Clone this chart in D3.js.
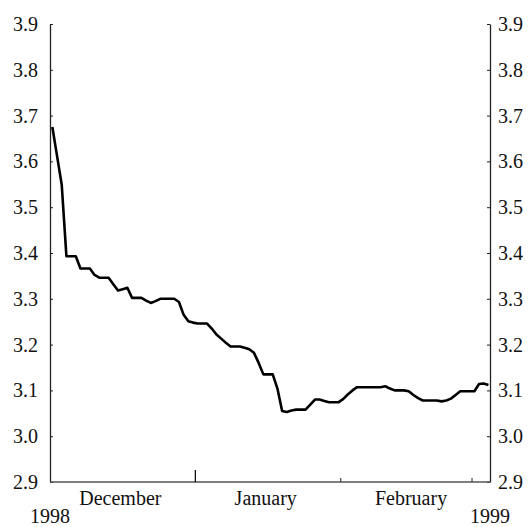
<!DOCTYPE html>
<html>
<head>
<meta charset="utf-8">
<script src="https://cdn.jsdelivr.net/npm/d3@7"></script>
<style>
  body { margin: 0; background: #fff; }
  text { font-family: "Liberation Serif", "Times New Roman", serif; }
</style>
</head>
<body>
<div class="chart"></div>
<script>
// daily values, starting 1 December 1998
const startDate = "1998-12-01";
const values = [
  3.675, 3.612, 3.549, 3.393, 3.393, 3.393, 3.366, 3.366, 3.366, 3.352,
  3.346, 3.346, 3.346, 3.332, 3.318, 3.321, 3.324, 3.302, 3.302, 3.302,
  3.296, 3.291, 3.295, 3.300, 3.300, 3.300, 3.300, 3.293, 3.265, 3.251,
  3.248,
  3.246, 3.246, 3.246, 3.235, 3.222, 3.213, 3.204, 3.196, 3.196, 3.196,
  3.193, 3.190, 3.182, 3.160, 3.135, 3.135, 3.135, 3.104, 3.055, 3.053,
  3.056, 3.058, 3.058, 3.058, 3.069, 3.080, 3.080, 3.077, 3.074, 3.074,
  3.074,
  3.081, 3.091, 3.100, 3.107, 3.107, 3.107, 3.107, 3.107, 3.107, 3.109,
  3.104, 3.100, 3.100, 3.100, 3.098, 3.090, 3.083, 3.078, 3.078, 3.078,
  3.078, 3.076, 3.078, 3.082, 3.090, 3.098, 3.098, 3.098,
  3.098, 3.114, 3.115, 3.112
];

const yTicks = [2.9, 3.0, 3.1, 3.2, 3.3, 3.4, 3.5, 3.6, 3.7, 3.8, 3.9];
const monthLabels = ["December", "January", "February"];
const monthLabelDates = ["1998-12-16", "1999-01-16", "1999-02-16"];
const majorTicks = ["1999-01-01"];
const minorTicks = ["1999-02-01", "1999-03-01"];
const yearLabels = ["1998", "1999"];

const parse = d3.utcParse("%Y-%m-%d");
const data = values.map((v, i) => ({
  date: d3.utcHour.offset(d3.utcDay.offset(parse(startDate), i), 12),
  value: v
}));

// margins, height and width
const margin = ({top: 24, right: 38, bottom: 45, left: 50});
const width = 528 - margin.left - margin.right;
const height = 527 - margin.top - margin.bottom;

const svg = d3.select(".chart")
    .append('svg')
    .attr('width', width + margin.left + margin.right)
    .attr('height', height + margin.top + margin.bottom)
    .append('g')
    .attr('transform', 'translate(' + margin.left + ',' + margin.top + ')');

// scales
const xScale = d3.scaleUtc()
    .domain([parse("1998-12-01"), d3.utcHour.offset(parse("1999-03-04"), 20)])
    .range([0, width]);

const yScale = d3.scaleLinear()
    .domain([2.9, 3.9])
    .range([height, 0]);

// y axes on both sides, ticks pointing inward
const yLeft = d3.axisLeft(yScale)
    .tickValues(yTicks)
    .tickFormat(d3.format(".1f"))
    .tickSizeInner(-3)
    .tickSizeOuter(0)
    .tickPadding(12);

const yRight = d3.axisRight(yScale)
    .tickValues(yTicks)
    .tickFormat(d3.format(".1f"))
    .tickSizeInner(-3)
    .tickSizeOuter(0)
    .tickPadding(8);

function styleAxis(g) {
  g.select('.domain').attr('stroke', '#222').attr('stroke-width', 1.3);
  g.selectAll('.tick line').attr('stroke', '#222');
  g.selectAll('.tick text')
    .attr('font-size', 20)
    .attr('fill', '#111')
    .attr('font-family', '"Liberation Serif", serif');
}

svg.append('g')
    .attr('class', 'axis y-left')
    .call(yLeft)
    .call(styleAxis);

svg.append('g')
    .attr('class', 'axis y-right')
    .attr('transform', 'translate(' + width + ',0)')
    .call(yRight)
    .call(styleAxis);

// x axis: baseline with a long year tick and short month ticks
const xAxis = svg.append('g')
    .attr('class', 'axis x-axis')
    .attr('transform', 'translate(0,' + height + ')');

xAxis.append('line')
    .attr('x1', 0)
    .attr('x2', width)
    .attr('stroke', '#555')
    .attr('stroke-width', 1.6);

xAxis.selectAll('.major')
    .data(majorTicks)
    .enter()
    .append('line')
    .attr('class', 'major')
    .attr('x1', (d) => xScale(parse(d)))
    .attr('x2', (d) => xScale(parse(d)))
    .attr('y2', -12)
    .attr('stroke', '#111')
    .attr('stroke-width', 1.3);

xAxis.selectAll('.minor')
    .data(minorTicks)
    .enter()
    .append('line')
    .attr('class', 'minor')
    .attr('x1', (d) => xScale(parse(d)))
    .attr('x2', (d) => xScale(parse(d)))
    .attr('y2', -4)
    .attr('stroke', '#444')
    .attr('stroke-width', 1.2);

xAxis.selectAll('.month')
    .data(monthLabels)
    .enter()
    .append('text')
    .attr('class', 'month')
    .attr('x', (d, i) => xScale(parse(monthLabelDates[i])))
    .attr('y', 22.5)
    .attr('text-anchor', 'middle')
    .attr('font-size', 20)
    .attr('fill', '#111')
    .text((d) => d);

xAxis.selectAll('.year')
    .data(yearLabels)
    .enter()
    .append('text')
    .attr('class', 'year')
    .attr('x', (d, i) => xScale.range()[i])
    .attr('y', 40.5)
    .attr('text-anchor', 'middle')
    .attr('font-size', 20)
    .attr('fill', '#111')
    .text((d) => d);

// line
const line = d3.line()
    .x((d) => xScale(d.date))
    .y((d) => yScale(d.value));

svg.append('path')
    .datum(data)
    .attr('fill', 'none')
    .attr('stroke', '#000')
    .attr('stroke-width', 2.6)
    .attr('stroke-linejoin', 'round')
    .attr('d', line);
</script>
</body>
</html>
